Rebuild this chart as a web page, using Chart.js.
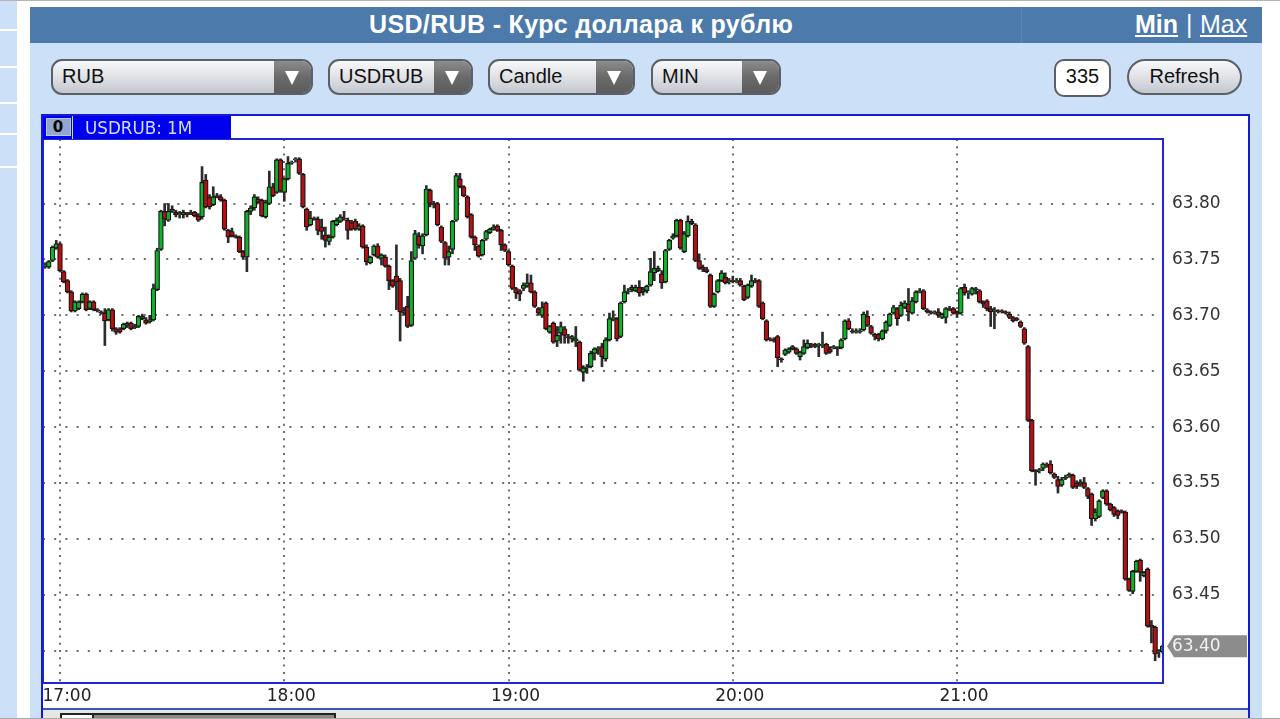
<!DOCTYPE html>
<html><head><meta charset="utf-8">
<script src="https://cdn.jsdelivr.net/npm/chart.js@4/dist/chart.umd.js"></script>
<style>
html,body{margin:0;padding:0;width:1280px;height:719px;overflow:hidden;background:#fff;font-family:"Liberation Sans",Arial,sans-serif}
div,span,a{position:absolute;box-sizing:border-box}
.sel{height:36px;top:59px;border:2px solid #5b6068;border-radius:11px;background:linear-gradient(#f8f8fa,#e2e4e8 45%,#c3c7ce);font-size:20px;color:#111;line-height:31px;padding-left:9px;overflow:hidden}
.btn{top:0;right:0;bottom:0;width:37px;background:linear-gradient(#8c8c8c,#6a6a6a 50%,#5c5c5c)}
.btn:after{content:"";position:absolute;left:11px;top:10px;border-left:7.5px solid transparent;border-right:7.5px solid transparent;border-top:14px solid #fff}
.strip{left:0;width:17px;height:2px;background:#fff}
a{color:#fff;text-decoration:underline;font-size:25px;top:9px;line-height:31px}
#cv{position:absolute;left:41px;top:114px;background:#fff;filter:blur(.35px)}
</style></head><body>
<div style="left:0;top:0;width:1280px;height:1px;background:#b4b4b4"></div>
<div style="left:0;top:1px;width:17px;height:718px;background:#cce0f7"></div>
<div class="strip" style="top:29px"></div><div class="strip" style="top:66px"></div><div class="strip" style="top:102px"></div><div class="strip" style="top:133px"></div><div class="strip" style="top:166px"></div>
<div style="left:30px;top:7px;width:1232px;height:712px;background:#cce0f7"></div>
<div style="left:30px;top:7px;width:1232px;height:36px;background:#4c7aab"></div>
<div style="left:1021px;top:7px;width:1px;height:36px;background:#5b87b5"></div>
<div style="left:369px;top:9px;color:#fff;font-weight:bold;font-size:25px;letter-spacing:.35px;line-height:31px;white-space:nowrap">USD/RUB - Курс доллара к рублю</div>
<a style="left:1135px;font-weight:bold">Min</a><span style="left:1186px;top:9px;color:#fff;font-size:25px;line-height:31px">|</span><a style="left:1200px">Max</a>

<div class="sel" style="left:51px;width:262px">RUB<div class="btn"></div></div>
<div class="sel" style="left:328px;width:145px">USDRUB<div class="btn"></div></div>
<div class="sel" style="left:488px;width:147px">Candle<div class="btn"></div></div>
<div class="sel" style="left:651px;width:130px">MIN<div class="btn"></div></div>
<div style="left:1054px;top:59px;width:57px;height:38px;background:#fff;border:2px solid #5b6068;border-radius:10px;font-size:20px;line-height:31px;text-align:center;color:#111">335</div>
<div style="left:1127px;top:59px;width:115px;height:36px;border:2px solid #5b6068;border-radius:18px;background:linear-gradient(#f8f8fa,#e2e4e8 45%,#c3c7ce);font-size:20px;line-height:31px;text-align:center;color:#111">Refresh</div>

<canvas id="cv" width="1209" height="594"></canvas>
<div style="left:41px;top:114px;width:190px;height:25px;background:#0000f0"></div>
<div style="left:46px;top:118px;width:25px;height:18px;background:#8fa6cf;border:1px solid #b9c7e6"></div>
<div style="left:51px;top:119px;width:14px;height:16px;color:#000;font:bold 15px 'DejaVu Sans';line-height:16px;text-align:center">0</div>
<div style="left:72px;top:115px;width:1px;height:24px;background:#cfd8ff"></div>
<div style="left:85px;top:117px;color:#d5dcff;font:17px 'DejaVu Sans';line-height:23px;white-space:nowrap;transform:scaleX(.985);transform-origin:left">USDRUB: 1M</div>
<div style="left:41px;top:114px;width:1209px;height:605px;border:2px solid #1818d8;border-bottom:none"></div>
<div style="left:43px;top:708px;width:1205px;height:11px;background:#e6e6e6;border-top:2px solid #3a55c0"></div>
<div style="left:60px;top:713px;width:276px;height:6px;background:#fff;border:2px solid #222;border-bottom:none"></div>
<div style="left:92px;top:715px;width:242px;height:4px;background:#8a8a8a;border-left:2px solid #222"></div>
<div style="left:0;top:718px;width:1280px;height:1px;background:#a8a8a8"></div>

<script>
const hourLabels=['17:00','18:00','19:00','20:00','21:00'];
const hourMinutes=[0,60,120,180,240];
const priceTicks=[63.40,63.45,63.50,63.55,63.60,63.65,63.70,63.75,63.80];
const lastPriceLabel='63.40';
const firstMinute=-4;
const opens=[
63.744,63.743,63.749,63.760,63.764,63.739,63.731,63.721,63.704,63.706,
63.712,63.719,63.706,63.712,63.705,63.703,63.702,63.696,63.705,63.688,
63.688,63.688,63.691,63.693,63.689,63.690,63.697,63.696,63.694,63.696,
63.723,63.759,63.793,63.785,63.793,63.792,63.790,63.790,63.791,63.791,
63.792,63.789,63.788,63.821,63.806,63.799,63.807,63.806,63.803,63.776,
63.775,63.771,63.770,63.757,63.752,63.793,63.796,63.804,63.803,63.788,
63.800,63.815,63.810,63.839,63.810,63.822,63.836,63.839,63.840,63.826,
63.795,63.781,63.787,63.786,63.779,63.772,63.766,63.770,63.781,63.784,
63.787,63.785,63.783,63.784,63.777,63.780,63.761,63.747,63.754,63.762,
63.751,63.752,63.744,63.731,63.735,63.731,63.702,63.708,63.691,63.751,
63.771,63.762,63.772,63.812,63.800,63.800,63.779,63.765,63.752,63.759,
63.785,63.822,63.815,63.806,63.790,63.770,63.762,63.754,63.768,63.774,
63.777,63.780,63.776,63.763,63.757,63.744,63.724,63.722,63.724,63.726,
63.729,63.721,63.706,63.700,63.711,63.685,63.693,63.677,63.684,63.688,
63.681,63.679,63.677,63.676,63.649,63.653,63.654,63.666,63.670,63.672,
63.661,63.678,63.697,63.697,63.681,63.712,63.721,63.723,63.722,63.725,
63.721,63.722,63.727,63.738,63.740,63.737,63.730,63.759,63.769,63.771,
63.785,63.757,63.771,63.784,63.781,63.749,63.743,63.741,63.736,63.708,
63.721,63.731,63.734,63.730,63.731,63.730,63.731,63.726,63.716,63.726,
63.731,63.731,63.711,63.695,63.679,63.678,63.681,63.661,63.665,63.667,
63.670,63.670,63.663,63.666,63.671,63.674,63.673,63.673,63.673,63.674,
63.670,63.671,63.671,63.671,63.679,63.695,63.686,63.685,63.685,63.687,
63.699,63.690,63.683,63.683,63.679,63.686,63.691,63.702,63.706,63.700,
63.707,63.710,63.702,63.712,63.721,63.722,63.705,63.703,63.702,63.703,
63.698,63.698,63.706,63.706,63.703,63.702,63.725,63.720,63.719,63.723,
63.722,63.712,63.713,63.706,63.704,63.704,63.704,63.703,63.701,63.698,
63.697,63.694,63.688,63.672,63.606,63.561,63.561,63.563,63.567,63.567,
63.558,63.553,63.548,63.554,63.556,63.557,63.550,63.549,63.550,63.545,
63.540,63.518,63.520,63.537,63.543,63.531,63.528,63.525,63.525,63.524,
63.464,63.453,63.471,63.481,63.467,63.473,63.423,63.421,63.399,63.399];
const closes=[
63.745,63.748,63.761,63.764,63.740,63.730,63.721,63.704,63.712,63.712,
63.719,63.705,63.712,63.705,63.704,63.702,63.695,63.705,63.688,63.685,
63.685,63.692,63.693,63.688,63.690,63.699,63.699,63.693,63.696,63.724,
63.758,63.793,63.786,63.793,63.795,63.790,63.791,63.792,63.790,63.792,
63.789,63.785,63.819,63.797,63.797,63.806,63.806,63.803,63.777,63.770,
63.771,63.770,63.757,63.752,63.793,63.796,63.806,63.801,63.789,63.801,
63.815,63.807,63.839,63.811,63.822,63.836,63.837,63.840,63.827,63.797,
63.779,63.787,63.786,63.776,63.775,63.767,63.770,63.784,63.785,63.788,
63.786,63.776,63.777,63.777,63.780,63.761,63.748,63.752,63.762,63.752,
63.754,63.744,63.731,63.726,63.730,63.703,63.704,63.690,63.749,63.773,
63.763,63.771,63.813,63.800,63.799,63.781,63.766,63.751,63.757,63.784,
63.825,63.815,63.807,63.788,63.770,63.763,63.753,63.767,63.775,63.777,
63.779,63.776,63.763,63.758,63.745,63.724,63.720,63.719,63.727,63.729,
63.721,63.708,63.702,63.707,63.688,63.690,63.676,63.682,63.690,63.682,
63.680,63.681,63.679,63.651,63.653,63.654,63.666,63.670,63.671,63.663,
63.678,63.697,63.698,63.679,63.711,63.721,63.722,63.725,63.725,63.720,
63.723,63.726,63.739,63.742,63.742,63.729,63.758,63.767,63.771,63.785,
63.760,63.773,63.784,63.782,63.749,63.742,63.741,63.739,63.708,63.719,
63.731,63.738,63.729,63.731,63.730,63.731,63.727,63.714,63.727,63.731,
63.730,63.708,63.697,63.678,63.678,63.677,63.662,63.660,63.669,63.670,
63.672,63.666,63.667,63.672,63.675,63.673,63.672,63.674,63.674,63.666,
63.667,63.672,63.670,63.678,63.695,63.688,63.685,63.686,63.686,63.701,
63.691,63.684,63.681,63.679,63.686,63.694,63.701,63.707,63.697,63.709,
63.711,63.703,63.713,63.721,63.722,63.706,63.703,63.702,63.703,63.700,
63.701,63.706,63.705,63.702,63.701,63.724,63.720,63.721,63.724,63.724,
63.712,63.710,63.706,63.703,63.705,63.703,63.703,63.702,63.698,63.695,
63.696,63.690,63.675,63.606,63.561,63.560,63.562,63.567,63.566,63.559,
63.555,63.547,63.553,63.555,63.558,63.546,63.547,63.551,63.546,63.538,
63.518,63.524,63.534,63.543,63.531,63.526,63.522,63.521,63.524,63.464,
63.454,63.471,63.480,63.470,63.470,63.422,63.421,63.397,63.400,63.404];
const highs=[
63.747,63.749,63.762,63.767,63.765,63.740,63.732,63.722,63.713,63.713,
63.720,63.720,63.713,63.713,63.706,63.704,63.706,63.706,63.706,63.689,
63.689,63.693,63.694,63.694,63.692,63.700,63.701,63.698,63.700,63.728,
63.760,63.794,63.800,63.800,63.798,63.794,63.793,63.794,63.792,63.794,
63.793,63.791,63.833,63.826,63.808,63.815,63.809,63.808,63.804,63.777,
63.778,63.772,63.771,63.758,63.794,63.798,63.808,63.806,63.804,63.803,
63.829,63.818,63.840,63.840,63.823,63.842,63.838,63.841,63.841,63.827,
63.796,63.793,63.788,63.788,63.786,63.779,63.772,63.785,63.787,63.790,
63.793,63.787,63.785,63.786,63.782,63.781,63.763,63.753,63.763,63.764,
63.755,63.754,63.745,63.732,63.763,63.733,63.707,63.717,63.757,63.776,
63.774,63.773,63.816,63.813,63.802,63.801,63.780,63.766,63.762,63.785,
63.827,63.827,63.816,63.807,63.791,63.771,63.763,63.768,63.776,63.778,
63.781,63.781,63.777,63.764,63.758,63.745,63.725,63.723,63.729,63.737,
63.736,63.722,63.707,63.712,63.712,63.691,63.694,63.690,63.694,63.690,
63.683,63.682,63.690,63.677,63.655,63.656,63.668,63.671,63.672,63.675,
63.680,63.702,63.704,63.698,63.712,63.727,63.724,63.727,63.727,63.731,
63.725,63.727,63.751,63.757,63.744,63.740,63.759,63.768,63.773,63.786,
63.786,63.775,63.789,63.786,63.782,63.755,63.745,63.743,63.737,63.720,
63.732,63.740,63.738,63.733,63.735,63.733,63.733,63.727,63.728,63.736,
63.733,63.732,63.712,63.696,63.680,63.680,63.682,63.662,63.670,63.671,
63.673,63.671,63.668,63.678,63.678,63.675,63.675,63.675,63.685,63.675,
63.672,63.673,63.672,63.679,63.696,63.697,63.688,63.688,63.688,63.703,
63.704,63.691,63.684,63.684,63.687,63.695,63.702,63.709,63.707,63.712,
63.713,63.724,63.716,63.722,63.724,63.723,63.706,63.704,63.704,63.706,
63.702,63.707,63.708,63.707,63.704,63.725,63.728,63.722,63.725,63.725,
63.723,63.713,63.714,63.708,63.707,63.705,63.705,63.704,63.703,63.699,
63.698,63.695,63.689,63.673,63.607,63.562,63.563,63.568,63.568,63.570,
63.559,63.556,63.555,63.557,63.559,63.558,63.552,63.553,63.555,63.546,
63.541,63.527,63.535,63.544,63.544,63.532,63.529,63.526,63.526,63.525,
63.465,63.472,63.481,63.482,63.471,63.474,63.427,63.422,63.401,63.405];
const lows=[
63.742,63.742,63.748,63.759,63.739,63.729,63.720,63.703,63.703,63.705,
63.711,63.704,63.705,63.704,63.703,63.701,63.673,63.695,63.686,63.683,
63.684,63.687,63.689,63.687,63.688,63.689,63.696,63.692,63.693,63.695,
63.722,63.758,63.780,63.784,63.792,63.788,63.787,63.787,63.788,63.790,
63.788,63.784,63.786,63.796,63.795,63.798,63.805,63.802,63.776,63.765,
63.770,63.769,63.756,63.750,63.739,63.790,63.794,63.800,63.788,63.787,
63.799,63.806,63.809,63.810,63.802,63.821,63.835,63.837,63.826,63.796,
63.776,63.780,63.785,63.772,63.768,63.761,63.763,63.769,63.780,63.783,
63.785,63.768,63.776,63.776,63.776,63.760,63.745,63.746,63.753,63.751,
63.745,63.743,63.723,63.725,63.705,63.677,63.700,63.689,63.690,63.750,
63.760,63.755,63.771,63.797,63.796,63.780,63.765,63.745,63.745,63.755,
63.784,63.814,63.806,63.787,63.769,63.758,63.752,63.753,63.767,63.773,
63.776,63.775,63.758,63.757,63.744,63.723,63.715,63.713,63.722,63.725,
63.720,63.707,63.700,63.698,63.687,63.684,63.675,63.672,63.675,63.675,
63.675,63.676,63.672,63.650,63.641,63.648,63.653,63.660,63.665,63.654,
63.659,63.677,63.695,63.677,63.680,63.711,63.719,63.721,63.721,63.717,
63.718,63.720,63.726,63.731,63.739,63.724,63.729,63.758,63.768,63.770,
63.759,63.756,63.770,63.781,63.748,63.741,63.739,63.738,63.707,63.707,
63.720,63.730,63.728,63.728,63.729,63.729,63.726,63.713,63.715,63.725,
63.729,63.707,63.696,63.677,63.677,63.676,63.654,63.658,63.664,63.666,
63.669,63.665,63.660,63.665,63.670,63.671,63.671,63.663,63.671,63.665,
63.666,63.670,63.664,63.670,63.678,63.687,63.684,63.684,63.684,63.686,
63.690,63.683,63.678,63.677,63.678,63.684,63.690,63.701,63.691,63.699,
63.706,63.695,63.701,63.711,63.720,63.705,63.702,63.701,63.701,63.698,
63.697,63.693,63.704,63.701,63.698,63.701,63.718,63.715,63.718,63.719,
63.711,63.707,63.704,63.690,63.688,63.702,63.702,63.701,63.697,63.694,
63.695,63.689,63.674,63.605,63.560,63.548,63.559,63.561,63.564,63.558,
63.554,63.541,63.547,63.553,63.555,63.545,63.545,63.547,63.545,63.536,
63.512,63.516,63.519,63.536,63.530,63.525,63.520,63.518,63.523,63.463,
63.453,63.451,63.470,63.462,63.466,63.421,63.407,63.391,63.394,63.398];

const RED='#b80f14',GREEN='#12b02c';
const wickData=lows.map((l,i)=>({x:firstMinute+i,y:[l,highs[i]]}));
const bodyData=opens.map((o,i)=>({x:firstMinute+i,y:[o,closes[i]]}));
const bodyColors=opens.map((o,i)=>closes[i]>=o?GREEN:RED);

const framePlugin={id:'frame',afterDraw(c){
  const g=c.ctx,a=c.chartArea,s=c.scales.y,yc=s.getPixelForValue(closes[closes.length-1]);
  g.save();
  g.strokeStyle='#2424d0';g.lineWidth=2;
  g.strokeRect(a.left,a.top,a.right-a.left,a.bottom-a.top);
  const x0=a.right+4,x1=a.right+84,h=11;
  g.fillStyle='#8c8c8c';g.beginPath();
  g.moveTo(x0,yc);g.lineTo(x0+7,yc-h);g.lineTo(x1,yc-h);g.lineTo(x1,yc+h);g.lineTo(x0+7,yc+h);g.closePath();g.fill();
  g.fillStyle='#f2f2f2';g.font='17px "DejaVu Sans"';g.textBaseline='middle';g.textAlign='left';
  g.fillText(lastPriceLabel,a.right+9,yc);
  g.restore();
}};

new Chart(document.getElementById('cv'),{
  type:'bar',
  data:{datasets:[
    {label:'Body',data:bodyData,backgroundColor:bodyColors,borderColor:'#141414',borderWidth:1.2,borderSkipped:false,barThickness:4.8,grouped:false,order:1},
    {label:'Wick',data:wickData,backgroundColor:'#2c2c2c',borderWidth:0,barThickness:2,grouped:false,order:2}
  ]},
  plugins:[framePlugin],
  options:{
    responsive:false,animation:false,devicePixelRatio:1,
    layout:{autoPadding:false,padding:{left:2,top:25,right:0,bottom:0}},
    plugins:{legend:{display:false},tooltip:{enabled:false},title:{display:false}},
    scales:{
      x:{type:'linear',min:-4.55,max:295.1,offset:false,
        afterFit(s){s.height=25;s.paddingLeft=0;s.paddingRight=0;},
        afterBuildTicks(s){s.ticks=hourMinutes.map(value=>({value}));},
        grid:{offset:false,color:'#6f6f6f',lineWidth:2,drawTicks:false},
        border:{display:false,dash:[2,5.3]},
        ticks:{autoSkip:false,maxRotation:0,padding:3,labelOffset:7,color:'#222',
          font:{family:'"DejaVu Sans"',size:17},
          callback:v=>hourLabels[hourMinutes.indexOf(v)]}
      },
      y:{type:'linear',position:'right',min:63.3711,max:63.8577,
        afterFit(s){s.width=87;s.paddingTop=0;s.paddingBottom=0;},
        afterBuildTicks(s){s.ticks=priceTicks.map(value=>({value}));},
        grid:{color:'#6f6f6f',lineWidth:2,drawTicks:false},
        border:{display:false,dash:[2,9.2]},
        ticks:{padding:9,color:'#333',
          font:{family:'"DejaVu Sans"',size:17},
          callback:v=>{const t=v.toFixed(2);return t===lastPriceLabel?'':t;}}
      }
    }
  }
});
</script>
</body></html>
